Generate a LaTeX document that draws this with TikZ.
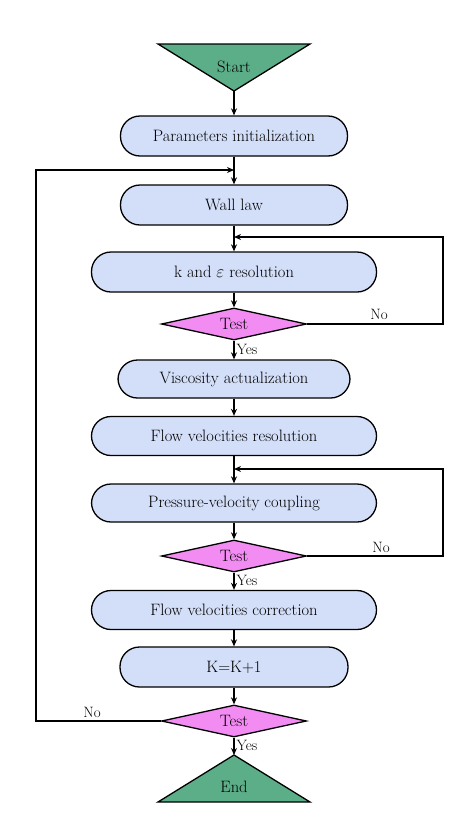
\documentclass[tikz,border=0pt]{standalone}
\usetikzlibrary{shapes.geometric,arrows.meta}
\definecolor{boxblue}{HTML}{D3DEF8}
\definecolor{termgreen}{HTML}{5CAE88}
\definecolor{testpink}{HTML}{F28CF2}
\begin{document}
\begin{tikzpicture}[x=1pt,y=-1pt,
  every node/.style={font=\fontsize{16.5}{19}\selectfont, text=black},
  procbox/.style={draw, line width=1.3pt, fill=boxblue, rectangle, rounded corners=19.5pt, inner sep=0pt, minimum height=40pt},
  testbox/.style={draw, line width=1.3pt, fill=testpink, diamond, aspect=4.5, inner sep=0pt, minimum width=145pt, minimum height=32pt},
  flow/.style={line width=1.2pt, -{Stealth[length=7pt,width=6pt]}},
  lbl/.style={font=\fontsize{15}{17}\selectfont}]
\useasboundingbox (0,0) rectangle (473,817);
% Start
\filldraw[line width=1.3pt, fill=termgreen] (158,44) -- (310,44) -- (234,91) -- cycle;
\coordinate (startapex) at (234,91);
\node (start) at (234,67) {Start};
% boxes
\node[procbox, minimum width=227pt] (param) at (234,136) {Parameters initialization};
\node[procbox, minimum width=227pt] (wall) at (234,205) {Wall law};
\node[procbox, minimum width=285pt] (kres) at (234,272) {k and $\varepsilon$ resolution};
\node[testbox] (t1) at (234,324) {Test};
\node[procbox, minimum width=232pt, minimum height=38pt] (visc) at (234,379) {Viscosity actualization};
\node[procbox, minimum width=285pt, minimum height=39pt] (flowres) at (234,436) {Flow velocities resolution};
\node[procbox, minimum width=285pt, minimum height=38pt] (press) at (234,503) {Pressure-velocity coupling};
\node[testbox] (t2) at (234,556) {Test};
\node[procbox, minimum width=285pt, minimum height=39pt] (corr) at (234,610) {Flow velocities correction};
\node[procbox, minimum width=228pt] (kk) at (234,667) {K=K+1};
\node[testbox] (t3) at (234,721) {Test};
% End
\filldraw[line width=1.3pt, fill=termgreen] (234,755) -- (310,802) -- (158,802) -- cycle;
\coordinate (endapex) at (234,755);
\node (end) at (234,787) {End};
% junctions
\coordinate (j1) at (234,237);
\coordinate (j2) at (234,469);
\coordinate (j3) at (234,170);
% vertical arrows
\draw[flow] (startapex) -- (param.north);
\draw[flow] (param.south) -- (wall.north);
\draw[flow] (wall.south) -- (kres.north);
\draw[flow] (kres.south) -- (t1.north);
\draw[flow] (t1.south) -- node[lbl, right, inner sep=2pt, pos=0.45] {Yes} (visc.north);
\draw[flow] (visc.south) -- (flowres.north);
\draw[flow] (flowres.south) -- (press.north);
\draw[flow] (press.south) -- (t2.north);
\draw[flow] (t2.south) -- node[lbl, right, inner sep=2pt, pos=0.45] {Yes} (corr.north);
\draw[flow] (corr.south) -- (kk.north);
\draw[flow] (kk.south) -- (t3.north);
\draw[flow] (t3.south) -- node[lbl, right, inner sep=2pt, pos=0.45] {Yes} (endapex);
% loops
\draw[flow] (t1.east) -- (443,324) |- (j1);
\node[lbl] (no1) at (379,314) {No};
\draw[flow] (t2.east) -- (443,556) |- (j2);
\node[lbl] (no2) at (381,547) {No};
\draw[flow] (t3.west) -- (36,721) |- (j3);
\node[lbl] (no3) at (92,712) {No};
\end{tikzpicture}
\end{document}
